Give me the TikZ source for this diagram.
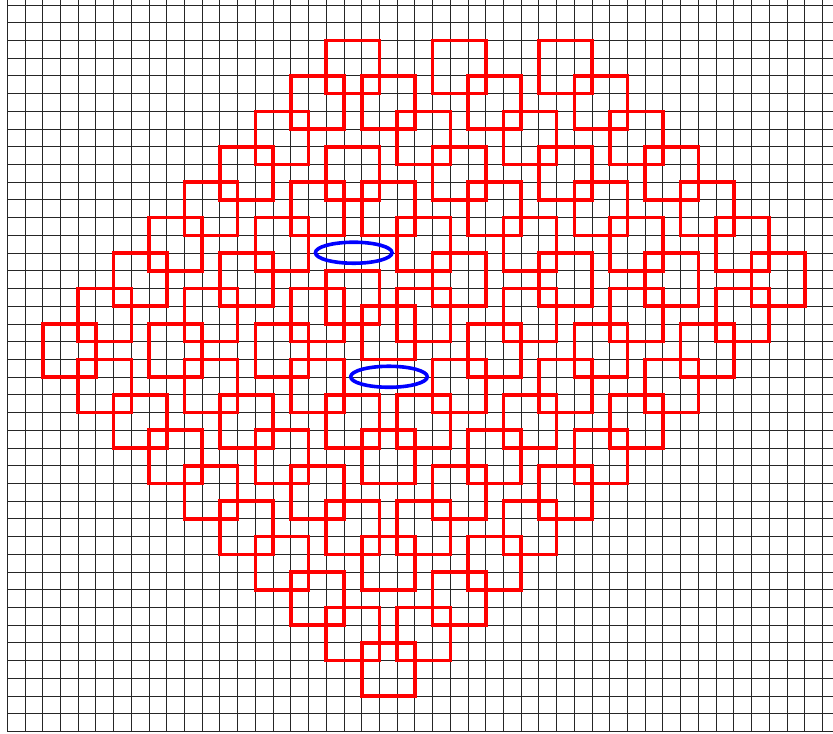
\documentclass[tikz,border=0pt]{standalone}
\begin{document}
\begin{tikzpicture}[x=17.72pt, y=-17.72pt,
  gridline/.style={draw=black!85, line width=0.9pt},
  tile/.style={draw=red, line width=3.6pt},
  hole/.style={draw=blue, line width=3.6pt}]
\path[use as bounding box] (-0.412,-0.282) rectangle (46.597,41.084);
\begin{scope}
  \clip (-0.412,-0.282) rectangle (46.597,41.084);
  \foreach \c in {0,...,47} \draw[gridline] (\c,-1) -- (\c,41);
  \foreach \r in {0,...,41} \draw[gridline] (0,\r) -- (47,\r);
\end{scope}
\foreach \c/\r in {18/2, 24/2, 30/2,
  16/4, 20/4, 26/4, 32/4,
  14/6, 22/6, 28/6, 34/6,
  12/8, 18/8, 24/8, 30/8, 36/8,
  10/10, 16/10, 20/10, 26/10, 32/10, 38/10,
  8/12, 14/12, 22/12, 28/12, 34/12, 40/12,
  6/14, 12/14, 24/14, 30/14, 36/14, 42/14,
  18/15,
  4/16, 10/16, 16/16, 22/16, 28/16, 34/16, 40/16,
  20/17,
  2/18, 8/18, 14/18, 26/18, 32/18, 38/18,
  4/20, 10/20, 16/20, 24/20, 30/20, 36/20,
  6/22, 12/22, 18/22, 22/22, 28/22, 34/22,
  8/24, 14/24, 20/24, 26/24, 32/24,
  10/26, 16/26, 24/26, 30/26,
  12/28, 18/28, 22/28, 28/28,
  14/30, 20/30, 26/30,
  16/32, 24/32,
  18/34, 22/34,
  20/36}
  \draw[tile] (\c,\r) rectangle ++(3,3);
\draw[hole] (19.55,13.98) ellipse [x radius=38.3pt, y radius=10.5pt];
\draw[hole] (21.54,20.98) ellipse [x radius=38.3pt, y radius=10.5pt];
\end{tikzpicture}
\end{document}
